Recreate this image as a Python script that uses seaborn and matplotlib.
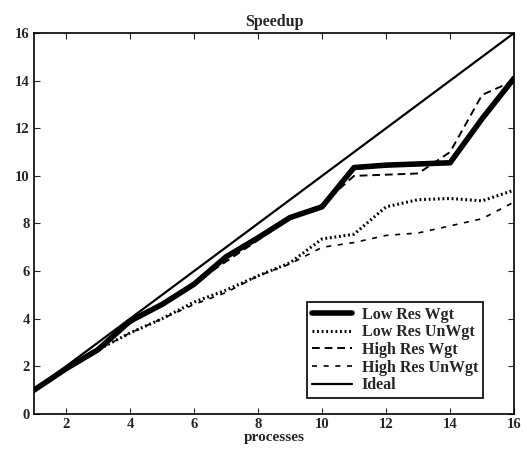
import matplotlib
matplotlib.use("Agg")
import matplotlib.pyplot as plt
import seaborn as sns
import pandas as pd

processes = list(range(1, 17))
low_res_wgt = [1.0, 1.9, 2.7, 3.9, 4.6, 5.45, 6.6, 7.4, 8.25, 8.7, 10.35, 10.45, 10.5, 10.55, 12.4, 14.1]
low_res_unwgt = [1.0, 1.9, 2.7, 3.4, 4.0, 4.7, 5.2, 5.8, 6.35, 7.35, 7.55, 8.7, 9.0, 9.05, 8.95, 9.4]
high_res_wgt = [1.0, 1.9, 2.8, 3.8, 4.6, 5.5, 6.4, 7.3, 8.2, 8.8, 10.0, 10.05, 10.1, 11.0, 13.4, 14.0]
high_res_unwgt = [1.0, 1.9, 2.7, 3.4, 4.0, 4.6, 5.1, 5.8, 6.3, 7.0, 7.2, 7.5, 7.6, 7.9, 8.2, 8.9]
ideal = [1, 2, 3, 4, 5, 6, 7, 8, 9, 10, 11, 12, 13, 14, 15, 16]

series = {
    "Low Res Wgt": low_res_wgt,
    "Low Res UnWgt": low_res_unwgt,
    "High Res Wgt": high_res_wgt,
    "High Res UnWgt": high_res_unwgt,
    "Ideal": ideal,
}
styles = {
    "Low Res Wgt": dict(lw=4.0, ls="-"),
    "Low Res UnWgt": dict(lw=2.2, ls=(0, (0.6, 0.9))),
    "High Res Wgt": dict(lw=1.4, ls=(0, (4, 2.5))),
    "High Res UnWgt": dict(lw=1.2, ls=(0, (3, 4))),
    "Ideal": dict(lw=1.6, ls="-"),
}

sns.set_style("ticks")
plt.rcParams["font.family"] = ["Liberation Serif", "DejaVu Serif"]
plt.rcParams["font.weight"] = "bold"

fig = plt.figure(figsize=(5.27, 4.49), dpi=100)
ax = fig.add_axes([0.0645, 0.078, 0.911, 0.8485])

for name, vals in series.items():
    df = pd.DataFrame({"processes": processes, "speedup": vals})
    st = styles[name]
    sns.lineplot(data=df, x="processes", y="speedup", ax=ax, color="black",
                 linewidth=st["lw"], linestyle=st["ls"], label=name)

ax.set_xlim(1, 16)
ax.set_ylim(0, 16)
ax.set_xticks(range(2, 17, 2))
ax.set_yticks(range(0, 17, 2))
ax.tick_params(direction="in", top=True, right=True, length=4, labelsize=10.5, pad=3)
for lbl in ax.get_xticklabels() + ax.get_yticklabels():
    lbl.set_fontweight("bold")
for sp in ax.spines.values():
    sp.set_linewidth(1.2)
    sp.set_color("black")

ax.set_title("Speedup", fontsize=11.5, fontweight="bold", pad=5)
ax.set_xlabel("processes", fontsize=11, fontweight="bold", labelpad=0)
ax.set_ylabel("")

leg = ax.legend(loc="lower right", bbox_to_anchor=(0.935, 0.042), borderaxespad=0,
                frameon=True, fancybox=False, framealpha=1, edgecolor="black",
                prop={"family": ["Liberation Serif"], "weight": "bold", "size": 11.5},
                handlelength=2.5, handletextpad=0.6, labelspacing=0.1, borderpad=0.3)
leg.get_frame().set_linewidth(1.2)

fig.savefig("out.png", dpi=100)
